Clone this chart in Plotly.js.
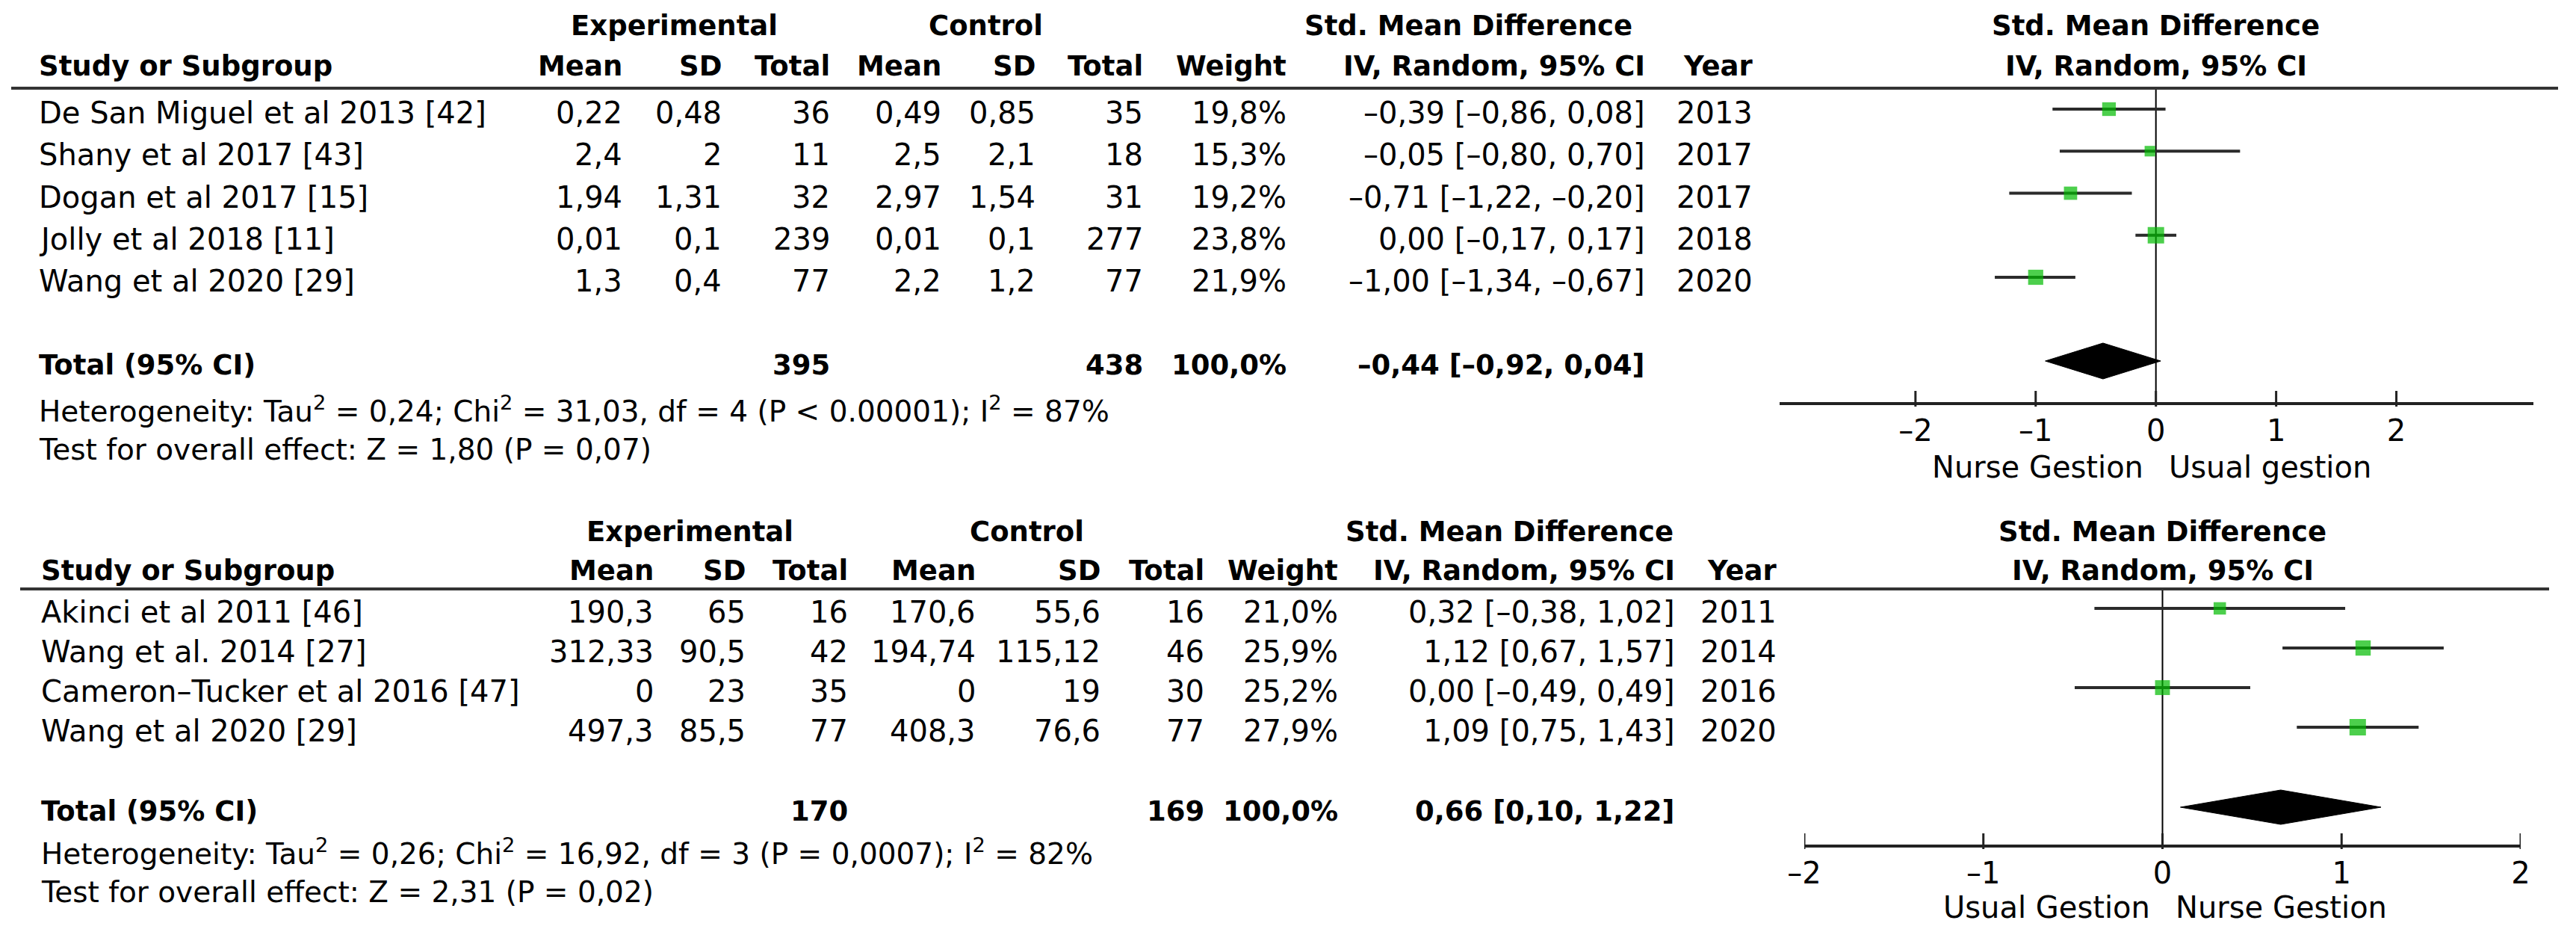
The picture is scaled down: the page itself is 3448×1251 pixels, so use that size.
<!DOCTYPE html>
<html>
<head>
<meta charset="utf-8">
<script src="https://cdn.plot.ly/plotly-3.0.1.min.js"></script>
<style>
html,body{margin:0;padding:0;background:#fff;overflow:hidden}
#chart{width:3448px;height:1251px}
</style>
</head>
<body>
<div id="chart"></div>
<script>
// ================= DATA : panel 1 =================
const studies1 = ['De San Miguel et al 2013 [42]', 'Shany et al 2017 [43]', 'Dogan et al 2017 [15]', 'Jolly et al 2018 [11]', 'Wang et al 2020 [29]'];
const expMean1 = [0.22, 2.4, 1.94, 0.01, 1.3];
const expSD1   = [0.48, 2, 1.31, 0.1, 0.4];
const expN1    = [36, 11, 32, 239, 77];
const ctlMean1 = [0.49, 2.5, 2.97, 0.01, 2.2];
const ctlSD1   = [0.85, 2.1, 1.54, 0.1, 1.2];
const ctlN1    = [35, 18, 31, 277, 77];
const weight1  = [19.8, 15.3, 19.2, 23.8, 21.9];
const smd1     = [-0.39, -0.05, -0.71, 0.00, -1.00];
const lo1      = [-0.86, -0.80, -1.22, -0.17, -1.34];
const hi1      = [0.08, 0.70, -0.20, 0.17, -0.67];
const year1    = [2013, 2017, 2017, 2018, 2020];
const total1   = {expN: 395, ctlN: 438, weight: 100.0, smd: -0.44, lo: -0.92, hi: 0.04};
const het1     = 'Heterogeneity: Tau<sup>2</sup> = 0,24; Chi<sup>2</sup> = 31,03, df = 4 (P < 0.00001); I<sup>2</sup> = 87%';
const test1    = 'Test for overall effect: Z = 1,80 (P = 0,07)';
const favours1 = ['Nurse Gestion', 'Usual gestion'];
const tickVals1 = [-2, -1, 0, 1, 2];
const tickText1 = ['\u20132', '\u20131', '0', '1', '2'];

// ================= DATA : panel 2 =================
const studies2 = ['Akinci et al 2011 [46]', 'Wang et al. 2014 [27]', 'Cameron\u2013Tucker et al 2016 [47]', 'Wang et al 2020 [29]'];
const expMean2 = [190.3, 312.33, 0, 497.3];
const expSD2   = [65, 90.5, 23, 85.5];
const expN2    = [16, 42, 35, 77];
const ctlMean2 = [170.6, 194.74, 0, 408.3];
const ctlSD2   = [55.6, 115.12, 19, 76.6];
const ctlN2    = [16, 46, 30, 77];
const weight2  = [21.0, 25.9, 25.2, 27.9];
const smd2     = [0.32, 1.12, 0.00, 1.09];
const lo2      = [-0.38, 0.67, -0.49, 0.75];
const hi2      = [1.02, 1.57, 0.49, 1.43];
const year2    = [2011, 2014, 2016, 2020];
const total2   = {expN: 170, ctlN: 169, weight: 100.0, smd: 0.66, lo: 0.10, hi: 1.22};
const het2     = 'Heterogeneity: Tau<sup>2</sup> = 0,26; Chi<sup>2</sup> = 16,92, df = 3 (P = 0,0007); I<sup>2</sup> = 82%';
const test2    = 'Test for overall effect: Z = 2,31 (P = 0,02)';
const favours2 = ['Usual Gestion', 'Nurse Gestion'];
const tickVals2 = [-2, -1, 0, 1, 2];
const tickText2 = ['\u20132', '\u20131', '0', '1', '2'];

const colHeads = ['Mean', 'SD', 'Total', 'Mean', 'SD', 'Total', 'Weight', 'IV, Random, 95% CI', 'Year'];

// ================= STYLE / LAYOUT =================
const W = 3448, H = 1251;
const FONT = 'DejaVu Sans';
const REG = 40, BOLD = 37, FOOT = 39;
const GREEN = '#00bb00';
const INK = '#000';
const TEXT_SHIFT = -5;   // nudge text down a little so caps sit on the row centre

const P1 = {xa: 'x2', studyX: 50, cols: [835, 968, 1113, 1262, 1388, 1532, 1724, 2204, 2348],
  gExp: 902, gCtl: 1319, gSmd: 1965, yGroup: 29, yHead: 83, yLine: 118,
  row0: 146, step: 56.25, yTotal: 483, yHet: 543, yTest: 596, yAxis: 540, yFav: 620,
  lineX0: 15, lineX1: 3424, boxMax: 22, dh: 24, ticks: tickVals1};
const P2 = {xa: 'x3', studyX: 53, cols: [877, 1000, 1137, 1308, 1475, 1614, 1793, 2244, 2380],
  gExp: 923, gCtl: 1374, gSmd: 2020, yGroup: 706, yHead: 758, yLine: 788,
  row0: 814, step: 53, yTotal: 1080, yHet: 1135, yTest: 1188, yAxis: 1132, yFav: 1209,
  lineX0: 27, lineX1: 3412, boxMax: 22, dh: 23, ticks: tickVals2};

function num(v) { return String(v).replace('.', ','); }
function dec(v, d) { return v.toFixed(d).replace('.', ',').replace('-', '\u2013'); }
function ciText(e, l, h) { return dec(e, 2) + ' [' + dec(l, 2) + ', ' + dec(h, 2) + ']'; }

const annotations = [];
const shapes = [];
const traces = [{type: 'scatter', x: [], y: [], xaxis: 'x', yaxis: 'y', hoverinfo: 'skip', showlegend: false}];

function txt(text, x, y, anchor, size, bold, xref, xshift) {
  annotations.push({
    text: bold ? '<b>' + text + '</b>' : text,
    x: x, y: y, xref: xref || 'x', yref: 'y',
    xanchor: anchor, yanchor: 'middle', showarrow: false,
    xshift: xshift || 0, yshift: TEXT_SHIFT,
    font: {family: FONT, size: size, color: INK}
  });
}

function panel(P, D) {
  const rowsY = D.studies.map((_, i) => P.row0 + i * P.step);
  // group headers
  txt('Experimental', P.gExp, P.yGroup, 'center', BOLD, true);
  txt('Control', P.gCtl, P.yGroup, 'center', BOLD, true);
  txt('Std. Mean Difference', P.gSmd, P.yGroup, 'center', BOLD, true);
  txt('Std. Mean Difference', 0, P.yGroup, 'center', BOLD, true, P.xa);
  // column headers
  txt('Study or Subgroup', P.studyX, P.yHead, 'left', BOLD, true);
  colHeads.forEach((h, j) => txt(h, P.cols[j], P.yHead, 'right', BOLD, true));
  txt('IV, Random, 95% CI', 0, P.yHead, 'center', BOLD, true, P.xa);
  // header rule
  shapes.push({type: 'line', xref: 'x', yref: 'y', x0: P.lineX0, x1: P.lineX1, y0: P.yLine, y1: P.yLine,
    line: {color: '#333', width: 4}});
  // rows
  D.studies.forEach((s, i) => {
    const y = rowsY[i];
    txt(s, P.studyX, y, 'left', REG, false);
    const vals = [num(D.expMean[i]), num(D.expSD[i]), String(D.expN[i]),
                  num(D.ctlMean[i]), num(D.ctlSD[i]), String(D.ctlN[i]),
                  dec(D.weight[i], 1) + '%', ciText(D.smd[i], D.lo[i], D.hi[i]), String(D.year[i])];
    vals.forEach((v, j) => txt(v, P.cols[j], y, 'right', REG, false));
  });
  // total row
  txt('Total (95% CI)', P.studyX, P.yTotal, 'left', BOLD, true);
  txt(String(D.total.expN), P.cols[2], P.yTotal, 'right', BOLD, true);
  txt(String(D.total.ctlN), P.cols[5], P.yTotal, 'right', BOLD, true);
  txt(dec(D.total.weight, 1) + '%', P.cols[6], P.yTotal, 'right', BOLD, true);
  txt(ciText(D.total.smd, D.total.lo, D.total.hi), P.cols[7], P.yTotal, 'right', BOLD, true);
  // footers
  txt(D.het, P.studyX, P.yHet, 'left', FOOT, false);
  txt(D.test, P.studyX, P.yTest, 'left', FOOT, false);
  // favours labels
  txt(D.favours[0], 0, P.yFav, 'right', REG, false, P.xa, -15);
  txt(D.favours[1], 0, P.yFav, 'left', REG, false, P.xa, 15);
  // null line
  shapes.push({type: 'line', xref: P.xa, yref: 'y', x0: 0, x1: 0, y0: P.yLine, y1: P.yAxis,
    line: {color: '#000', width: 2}, layer: 'below'});
  // tick marks (rising above the axis line, as in the reference)
  P.ticks.forEach(v => shapes.push({type: 'line', xref: P.xa, yref: 'y', x0: v, x1: v,
    y0: P.yAxis - 17, y1: P.yAxis + 4, line: {color: '#222', width: 3}}));
  // study estimates with CIs
  const wMax = Math.max(...D.weight);
  traces.push({
    type: 'scatter', mode: 'markers', xaxis: P.xa, yaxis: 'y',
    x: D.smd, y: rowsY, hoverinfo: 'skip', showlegend: false,
    marker: {symbol: 'square', color: GREEN, size: D.weight.map(w => P.boxMax * w / wMax), line: {width: 0}},
    error_x: {type: 'data', symmetric: false,
      array: D.hi.map((h, i) => h - D.smd[i]),
      arrayminus: D.lo.map((l, i) => D.smd[i] - l),
      color: '#2b2b2b', thickness: 4, width: 0}
  });
  // pooled diamond
  const t = D.total, yt = P.yTotal;
  traces.push({
    type: 'scatter', mode: 'lines', xaxis: P.xa, yaxis: 'y', hoverinfo: 'skip', showlegend: false,
    x: [t.lo, t.smd, t.hi, t.smd, t.lo],
    y: [yt, yt - P.dh, yt, yt + P.dh, yt],
    fill: 'toself', fillcolor: '#000', line: {color: '#000', width: 1}
  });
}

panel(P1, {studies: studies1, expMean: expMean1, expSD: expSD1, expN: expN1, ctlMean: ctlMean1, ctlSD: ctlSD1,
  ctlN: ctlN1, weight: weight1, smd: smd1, lo: lo1, hi: hi1, year: year1, total: total1, het: het1, test: test1, favours: favours1});
panel(P2, {studies: studies2, expMean: expMean2, expSD: expSD2, expN: expN2, ctlMean: ctlMean2, ctlSD: ctlSD2,
  ctlN: ctlN2, weight: weight2, smd: smd2, lo: lo2, hi: hi2, year: year2, total: total2, het: het2, test: test2, favours: favours2});

function forestAxis(d0, d1, range, yPix, vals, texts) {
  return {
    domain: [d0 / W, d1 / W], range: range, anchor: 'free', position: 1 - yPix / H,
    showline: true, linecolor: '#222', linewidth: 4,
    ticks: '', tickmode: 'array', tickvals: vals, ticktext: texts,
    tickfont: {family: FONT, size: REG, color: INK}, ticklabelstandoff: 0,
    showgrid: false, zeroline: false, fixedrange: true
  };
}

const layout = {
  width: W, height: H,
  margin: {l: 0, r: 0, t: 0, b: 0, pad: 0},
  paper_bgcolor: '#fff', plot_bgcolor: 'rgba(0,0,0,0)',
  showlegend: false, hovermode: false,
  xaxis: {domain: [0, 1], range: [0, W], visible: false, fixedrange: true},
  yaxis: {domain: [0, 1], range: [H, 0], visible: false, fixedrange: true, anchor: 'x'},
  xaxis2: forestAxis(2382, 3391, [-3.13, 3.14], P1.yAxis, tickVals1, tickText1),
  xaxis3: forestAxis(2415, 3374, [-2, 2], P2.yAxis, tickVals2, tickText2),
  annotations: annotations,
  shapes: shapes
};

Plotly.newPlot('chart', traces, layout, {displayModeBar: false, staticPlot: true});
</script>
</body>
</html>
